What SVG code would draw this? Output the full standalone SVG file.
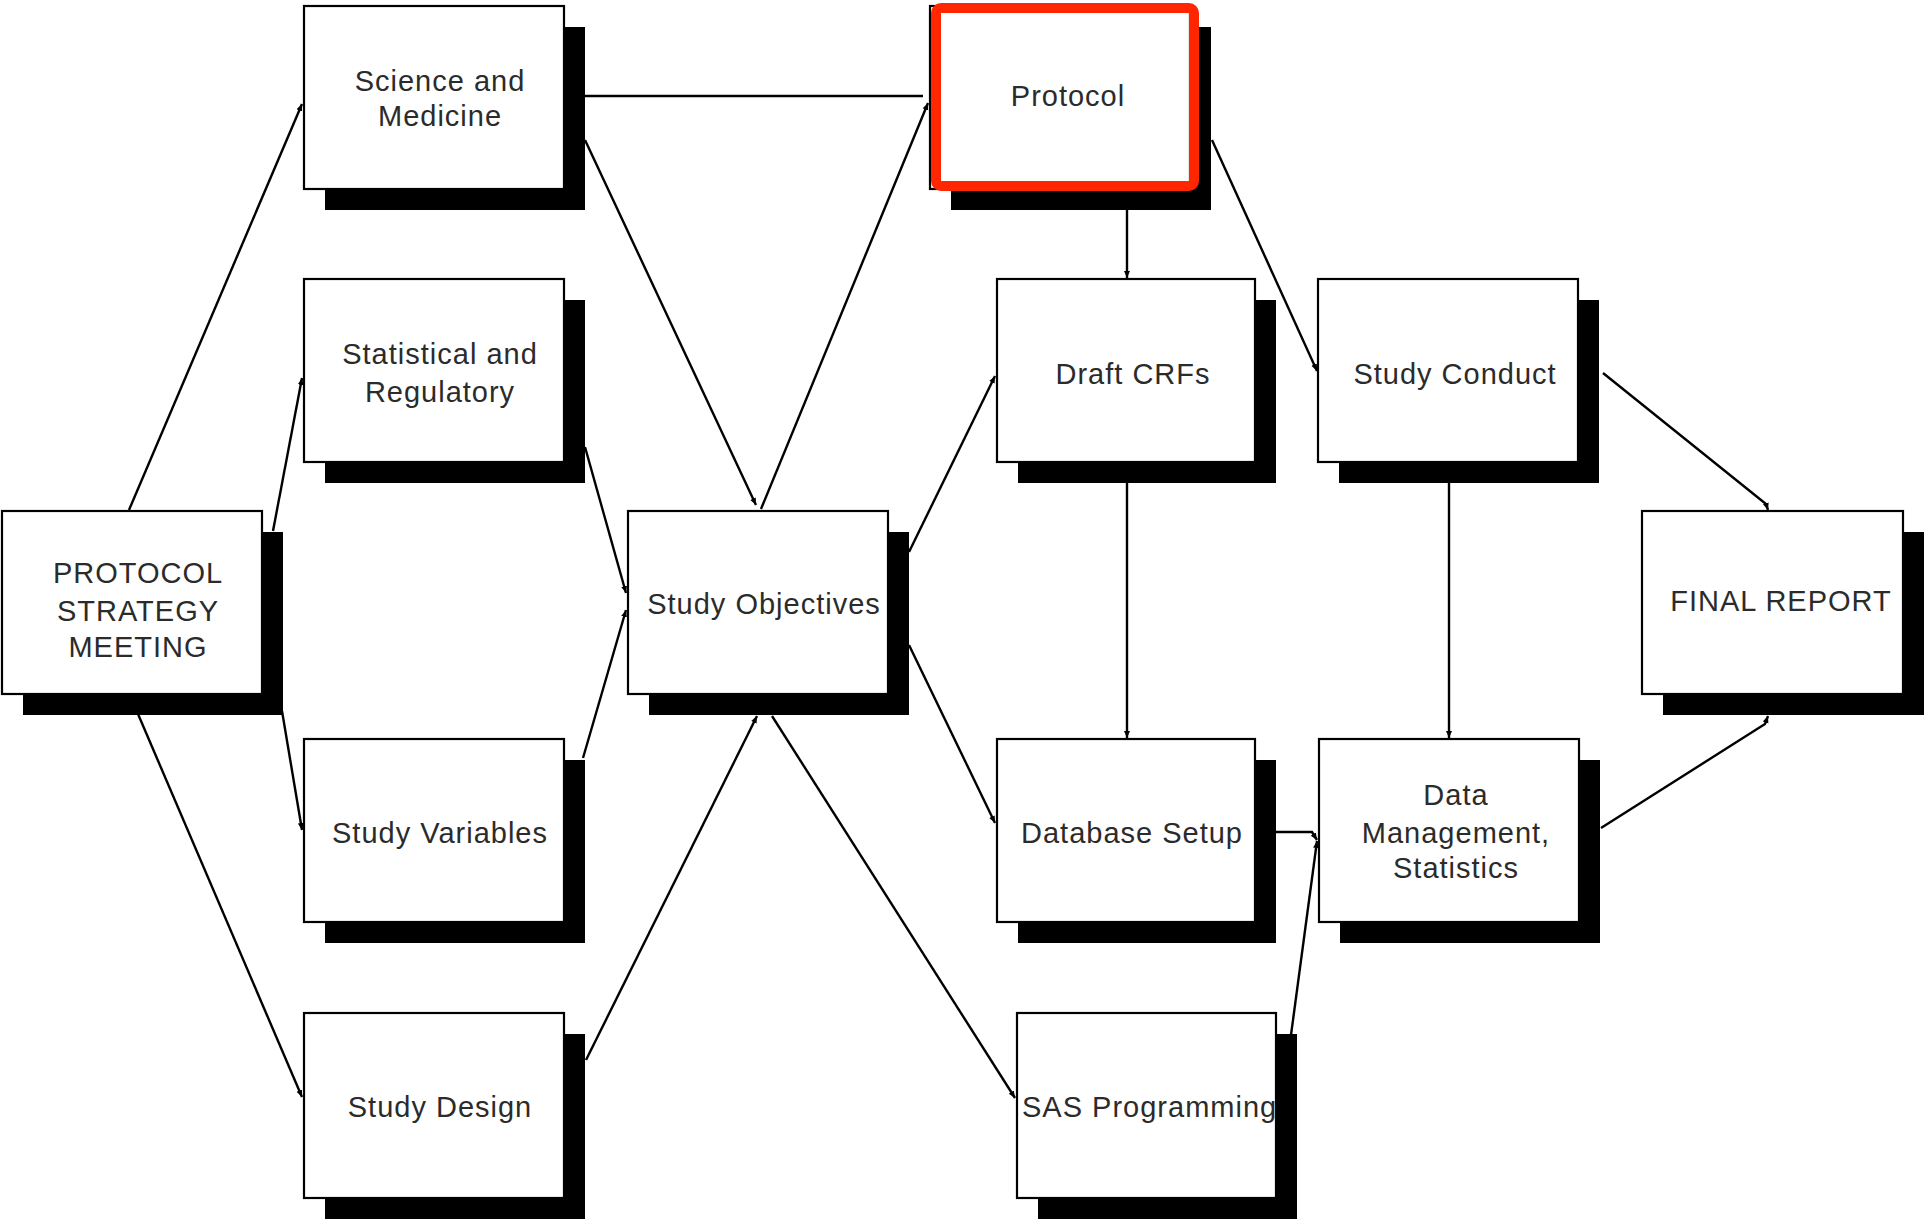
<svg xmlns="http://www.w3.org/2000/svg" width="1926" height="1223" viewBox="0 0 1926 1223">
  <defs>
    <marker id="arrow" markerUnits="userSpaceOnUse" markerWidth="8" markerHeight="7" refX="7" refY="3" orient="auto">
      <path d="M0,0 L7,3 L0,6 z" fill="#000"/>
    </marker>
  </defs>
  <style>
    .shadow { fill: #000; }
    .box { fill: #fff; stroke: #000; stroke-width: 2.2; }
    .label { font-family: "Liberation Sans", Arial, sans-serif; font-size: 29px; letter-spacing: 1px; fill: #2b2b2b; text-anchor: middle; }
    .edge { fill: none; stroke: #000; stroke-width: 2.4; }
    .arrow { marker-end: url(#arrow); }
    .highlight { fill: none; stroke: #ff2600; stroke-width: 10; }
  </style>
  <rect width="1926" height="1223" fill="#fff"/>

  <!-- nodes: drop shadow, box, label -->
  <g id="protocol-strategy-meeting">
    <rect class="shadow" x="23" y="532" width="260" height="183"/>
    <rect class="box" x="2" y="511" width="260" height="183"/>
    <text class="label" x="138" y="583">PROTOCOL</text>
    <text class="label" x="138" y="621">STRATEGY</text>
    <text class="label" x="138" y="657">MEETING</text>
  </g>
  <g id="science-medicine">
    <rect class="shadow" x="325" y="27" width="260" height="183"/>
    <rect class="box" x="304" y="6" width="260" height="183"/>
    <text class="label" x="440" y="91">Science and</text>
    <text class="label" x="440" y="126">Medicine</text>
  </g>
  <g id="statistical-regulatory">
    <rect class="shadow" x="325" y="300" width="260" height="183"/>
    <rect class="box" x="304" y="279" width="260" height="183"/>
    <text class="label" x="440" y="364">Statistical and</text>
    <text class="label" x="440" y="402">Regulatory</text>
  </g>
  <g id="study-variables">
    <rect class="shadow" x="325" y="760" width="260" height="183"/>
    <rect class="box" x="304" y="739" width="260" height="183"/>
    <text class="label" x="440" y="843">Study Variables</text>
  </g>
  <g id="study-design">
    <rect class="shadow" x="325" y="1034" width="260" height="185"/>
    <rect class="box" x="304" y="1013" width="260" height="185"/>
    <text class="label" x="440" y="1117">Study Design</text>
  </g>
  <g id="study-objectives">
    <rect class="shadow" x="649" y="532" width="260" height="183"/>
    <rect class="box" x="628" y="511" width="260" height="183"/>
    <text class="label" x="764" y="614">Study Objectives</text>
  </g>
  <g id="protocol">
    <rect class="shadow" x="951" y="27" width="260" height="183"/>
    <rect class="box" x="930" y="6" width="260" height="183"/>
    <rect class="highlight" x="936" y="8" width="258" height="178" rx="5"/>
    <text class="label" x="1068" y="106">Protocol</text>
  </g>
  <g id="draft-crfs">
    <rect class="shadow" x="1018" y="300" width="258" height="183"/>
    <rect class="box" x="997" y="279" width="258" height="183"/>
    <text class="label" x="1133" y="384">Draft CRFs</text>
  </g>
  <g id="database-setup">
    <rect class="shadow" x="1018" y="760" width="258" height="183"/>
    <rect class="box" x="997" y="739" width="258" height="183"/>
    <text class="label" x="1132" y="843">Database Setup</text>
  </g>
  <g id="sas-programming">
    <rect class="shadow" x="1038" y="1034" width="259" height="185"/>
    <rect class="box" x="1017" y="1013" width="259" height="185"/>
    <text class="label" x="1022" y="1117" style="text-anchor:start">SAS Programming</text>
  </g>
  <g id="study-conduct">
    <rect class="shadow" x="1339" y="300" width="260" height="183"/>
    <rect class="box" x="1318" y="279" width="260" height="183"/>
    <text class="label" x="1455" y="384">Study Conduct</text>
  </g>
  <g id="data-management-statistics">
    <rect class="shadow" x="1340" y="760" width="260" height="183"/>
    <rect class="box" x="1319" y="739" width="260" height="183"/>
    <text class="label" x="1456" y="805">Data</text>
    <text class="label" x="1456" y="843">Management,</text>
    <text class="label" x="1456" y="878">Statistics</text>
  </g>
  <g id="final-report">
    <rect class="shadow" x="1663" y="532" width="261" height="183"/>
    <rect class="box" x="1642" y="511" width="261" height="183"/>
    <text class="label" x="1781" y="611">FINAL REPORT</text>
  </g>

  <!-- connectors -->
  <g id="connectors">
    <line class="edge arrow" x1="129" y1="510" x2="302" y2="104"/>
    <line class="edge arrow" x1="273" y1="531" x2="302" y2="378"/>
    <line class="edge arrow" x1="282" y1="711" x2="302" y2="830"/>
    <line class="edge arrow" x1="138" y1="714" x2="302" y2="1097"/>

    <line class="edge" x1="585" y1="96" x2="923" y2="96"/>
    <line class="edge arrow" x1="585" y1="140" x2="756" y2="505"/>
    <line class="edge arrow" x1="585" y1="447" x2="626" y2="593"/>
    <line class="edge arrow" x1="583" y1="758" x2="626" y2="610"/>
    <line class="edge arrow" x1="586" y1="1060" x2="757" y2="716"/>

    <line class="edge arrow" x1="761" y1="509" x2="928" y2="103"/>
    <line class="edge arrow" x1="772" y1="716" x2="1015" y2="1098"/>
    <line class="edge arrow" x1="909" y1="552" x2="995" y2="376"/>
    <line class="edge arrow" x1="909" y1="645" x2="995" y2="823"/>

    <line class="edge arrow" x1="1127" y1="210" x2="1127" y2="278"/>
    <line class="edge arrow" x1="1127" y1="483" x2="1127" y2="738"/>
    <line class="edge arrow" x1="1212" y1="140" x2="1317" y2="371"/>
    <line class="edge arrow" x1="1449" y1="483" x2="1449" y2="738"/>

    <polyline class="edge arrow" points="1276,832 1312,832 1317,840"/>
    <line class="edge arrow" x1="1291" y1="1035" x2="1317" y2="841"/>

    <polyline class="edge arrow" points="1603,373 1766,504 1768,510"/>
    <polyline class="edge arrow" points="1601,828 1765,724 1768,716"/>
  </g>
</svg>
